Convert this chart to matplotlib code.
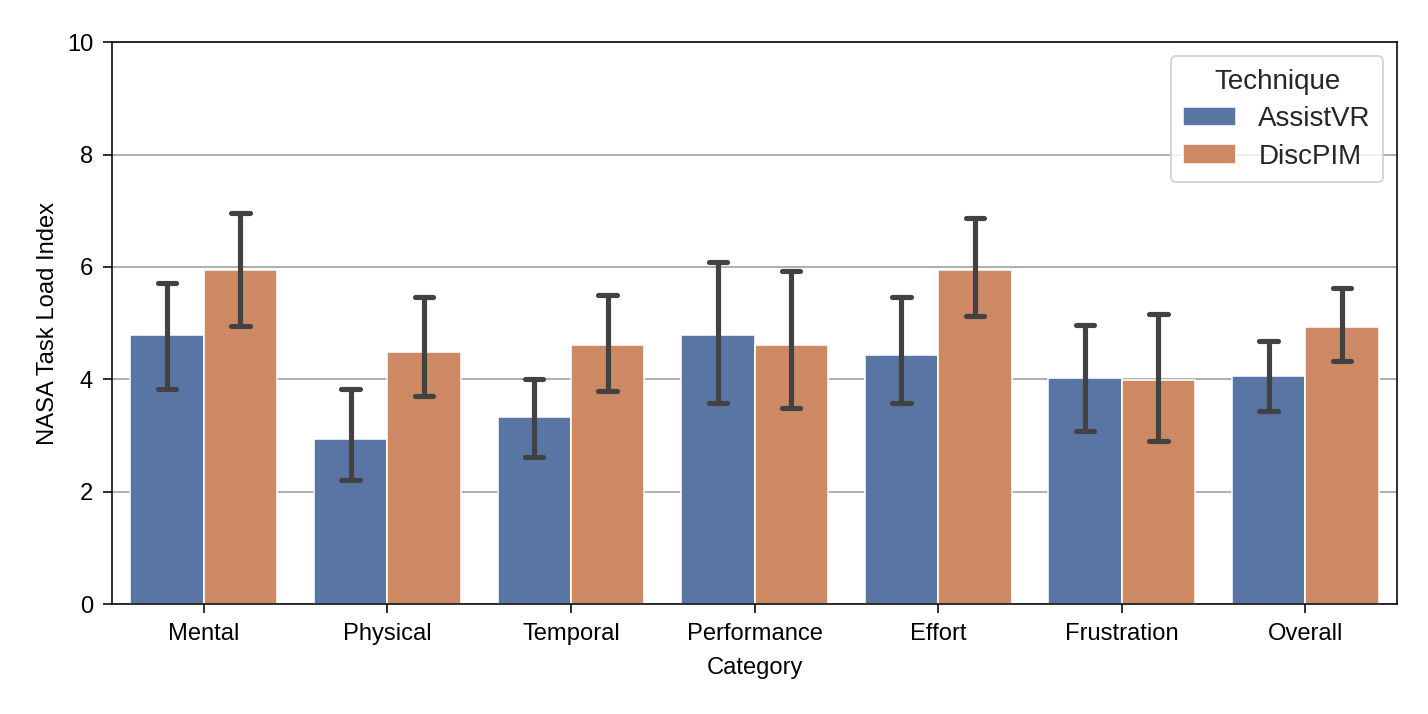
import numpy as np
import matplotlib.pyplot as plt

plt.rcParams['font.family'] = ['Liberation Sans', 'DejaVu Sans']

categories = ['Mental', 'Physical', 'Temporal', 'Performance', 'Effort', 'Frustration', 'Overall']
techniques = ['AssistVR', 'DiscPIM']

# means and CI bounds
assist_mean = [4.78, 2.94, 3.32, 4.78, 4.44, 4.02, 4.05]
assist_lo = [3.83, 2.21, 2.62, 3.58, 3.58, 3.08, 3.43]
assist_hi = [5.71, 3.83, 4.00, 6.09, 5.46, 4.96, 4.69]
disc_mean = [5.94, 4.48, 4.61, 4.61, 5.94, 3.98, 4.93]
disc_lo = [4.95, 3.70, 3.79, 3.49, 5.12, 2.91, 4.32]
disc_hi = [6.96, 5.46, 5.50, 5.92, 6.87, 5.16, 5.62]

colors = ['#5975a4', '#cc8963']
err_color = '#424242'

fig = plt.figure(figsize=(10, 5), dpi=142.8)
ax = fig.add_axes([0.0784, 0.154, 0.9, 0.787])

x = np.arange(len(categories))
w = 0.4
series = [(assist_mean, assist_lo, assist_hi), (disc_mean, disc_lo, disc_hi)]
for i, (m, lo, hi) in enumerate(series):
    xs = x - w / 2 + i * w
    ax.bar(xs, m, width=w, color=colors[i], edgecolor='white', linewidth=0.8,
           label=techniques[i], zorder=2)
    for xi, l, h in zip(xs, lo, hi):
        ax.plot([xi, xi], [l, h], color=err_color, lw=2.6, solid_capstyle='round', zorder=3)
        ax.plot([xi - 0.05, xi + 0.05], [l, l], color=err_color, lw=2.6, solid_capstyle='round', zorder=3)
        ax.plot([xi - 0.05, xi + 0.05], [h, h], color=err_color, lw=2.6, solid_capstyle='round', zorder=3)

ax.set_xlim(-0.5, len(categories) - 0.5)
ax.set_ylim(0, 10)
ax.set_xticks(x)
ax.set_xticklabels(categories, fontsize=12)
ax.set_yticks([0, 2, 4, 6, 8, 10])
ax.tick_params(axis='both', labelsize=12, length=4.5, pad=5)
ax.set_xlabel('Category', fontsize=12, labelpad=6)
ax.set_ylabel('NASA Task Load Index', fontsize=12, labelpad=4)
ax.yaxis.grid(True, color='#b0b0b0', lw=1.0, zorder=0)
ax.set_axisbelow(True)

leg = ax.legend(title='Technique', fontsize=14, title_fontsize=14, loc='upper right',
                handlelength=1.9, labelspacing=0.42, borderpad=0.45)
for t in leg.get_texts():
    t.set_color('#262626')
leg.get_title().set_color('#262626')

fig.savefig('out.png', dpi=142.8)
